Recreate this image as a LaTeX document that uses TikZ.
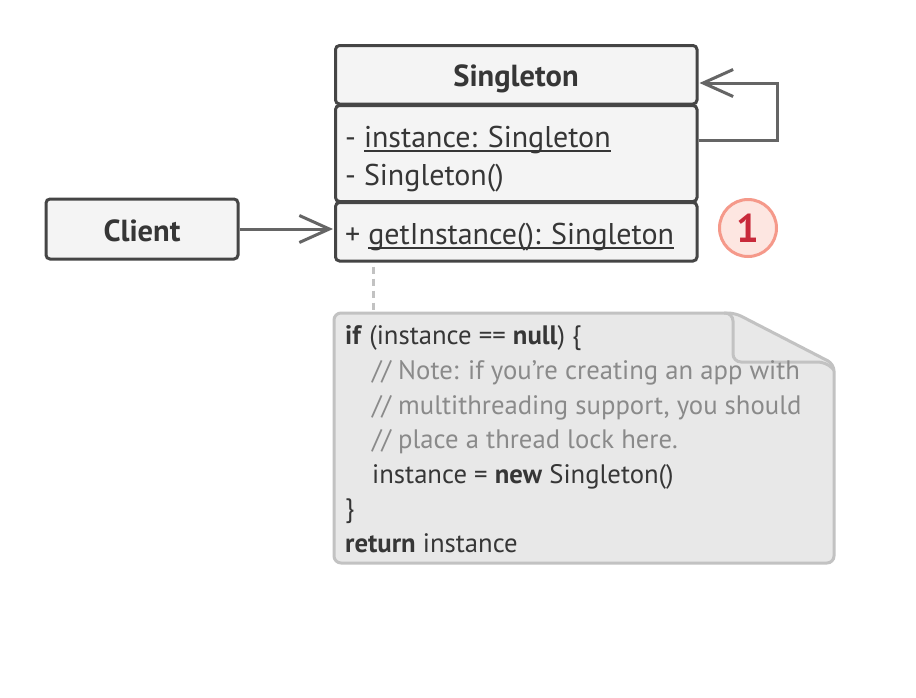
\documentclass[tikz,border=0pt]{standalone}
\usepackage{fontspec}
\setmainfont{PT Sans}
\usetikzlibrary{arrows.meta}
\definecolor{edgec}{HTML}{454545}
\definecolor{arrc}{HTML}{656565}
\definecolor{boxfill}{HTML}{F4F4F4}
\definecolor{txt}{HTML}{363636}
\definecolor{notefill}{HTML}{E8E8E8}
\definecolor{noteedge}{HTML}{C2C2C2}
\definecolor{comment}{HTML}{8A8A8A}
\definecolor{badgefill}{HTML}{FDE6E1}
\definecolor{badgeedge}{HTML}{F5998A}
\definecolor{badgetxt}{HTML}{C8293A}
\newcommand\myul[1]{\setbox0\hbox{#1}\rlap{\rule[-4.5pt]{\wd0}{1.6pt}}\box0}
\tikzset{
  classbox/.style={draw=edgec, fill=boxfill, line width=3, rounded corners=4, inner sep=0},
  classtxt/.style={anchor=base west, inner sep=0, text=txt, font=\fontsize{30}{34}\selectfont},
  titletxt/.style={anchor=base, inner sep=0, text=txt, font=\fontsize{30.5}{34}\selectfont\bfseries},
  codetxt/.style={anchor=base west, inner sep=0, text=txt, font=\fontsize{26.7}{30}\selectfont},
  arr/.style={draw=arrc, line width=3, -{Straight Barb[length=30pt, width=27pt, line width=3pt]}},
  dashline/.style={draw=noteedge, line width=3, dash pattern=on 7 off 5},
  badge/.style={circle, draw=badgeedge, fill=badgefill, line width=3, minimum size=57, inner sep=0, text=badgetxt, font=\fontsize{40}{44}\selectfont\bfseries}
}
\begin{document}
\begin{tikzpicture}[x=1pt,y=-1pt]
\useasboundingbox (0,0) rectangle (916,697);
\fill[white] (0,0) rectangle (916,697);

% class boxes
\node[classbox, minimum width=361.5, minimum height=58.5] (hdr) at (516.25,74.75) {};
\node[classbox, minimum width=361.5, minimum height=96] (attrs) at (516.25,153.5) {};
\node[classbox, minimum width=361.5, minimum height=58.5] (meth) at (516.25,231.75) {};

\node[titletxt] (t1) at (516,86.5) {Singleton};
\node[classtxt] (a1) at (345,147) {- \myul{instance: Singleton}};
\node[classtxt] (a2) at (345,185) {- Singleton()};
\node[classtxt] (m1) at (345,244) {+ \myul{getInstance(): Singleton}};

% client
\node[classbox, minimum width=192, minimum height=60] (client) at (142,229) {};
\node[titletxt] (ct) at (142,241) {Client};

\draw[arr] (client.east) -- ([xshift=-1]client.east -| meth.west);

% self loop
\coordinate (loopc) at (777,83);
\draw[arr] ([yshift=13.5]attrs.east) -| (loopc) -- ([yshift=-8.25,xshift=1]hdr.east);

% badge
\node[badge] (b1) at (748,228) {1};

% note
\coordinate (notetop) at (373,313);
\draw[dashline] ([yshift=-4]meth.south -| notetop) -- (notetop);
\draw[draw=noteedge, fill=notefill, line width=3, rounded corners=7]
  (334,313) -- (735,313) -- (834,364) -- (834,563) -- (334,563) -- cycle;
\draw[draw=noteedge, line width=3, rounded corners=8]
  (724,313) -- (733,313) -- (733,362) -- (826,362) -- (834,370);

\node[codetxt] (c1) at (345,344) {\textbf{if} (instance == \textbf{null}) \{};
\node[codetxt, text=comment] (c2) at (372,379) {// Note: if you’re creating an app with};
\node[codetxt, text=comment] (c3) at (372,414) {// multithreading support, you should};
\node[codetxt, text=comment] (c4) at (372,448) {// place a thread lock here.};
\node[codetxt] (c5) at (372,483) {instance = \textbf{new} Singleton()};
\node[codetxt] (c6) at (345,517) {\}};
\node[codetxt] (c7) at (345,552) {\textbf{return} instance};
\end{tikzpicture}
\end{document}
